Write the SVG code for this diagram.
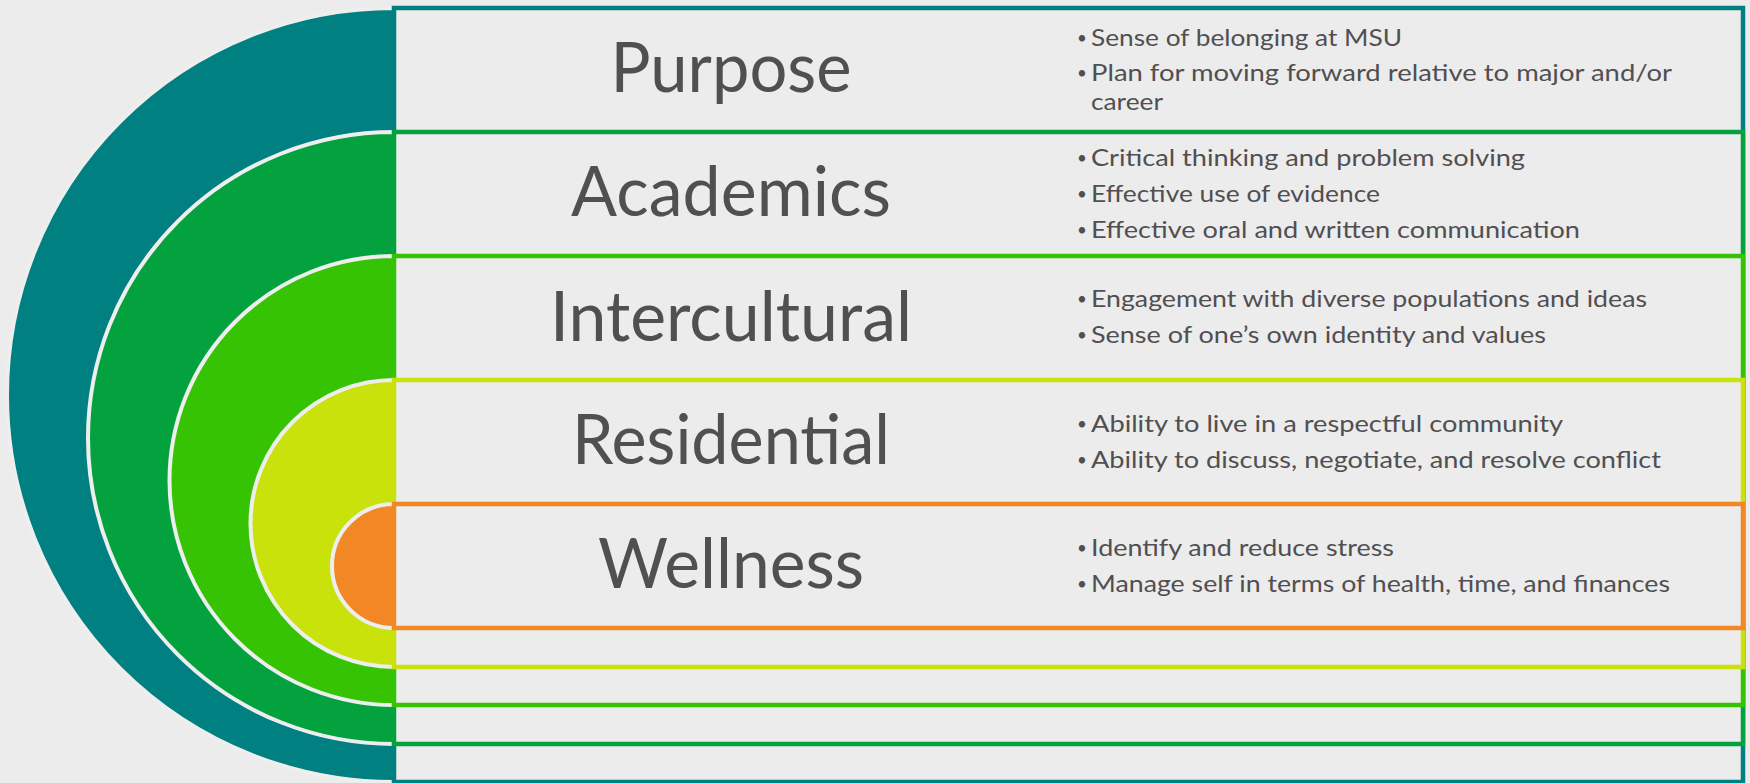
<svg xmlns="http://www.w3.org/2000/svg" width="1750" height="783" viewBox="0 0 1750 783">
  <style>
    .disk { stroke: #EDEEED; stroke-width: 4; }
    .box { fill: #EBECEB; stroke-width: 4.5; }
    .title { font-family: Lato, "Open Sans", "Liberation Sans", sans-serif; font-size: 70px; fill: #514F52; text-anchor: middle; }
    .item { font-family: Lato, "Open Sans", "Liberation Sans", sans-serif; font-size: 24px; fill: #514F52; }
    .dot { font-family: Lato, "Open Sans", "Liberation Sans", sans-serif; font-size: 17px; fill: #514F52; text-anchor: middle; }
  </style>
  <rect x="0" y="0" width="1750" height="783" fill="#EBECEB"/>

  <g id="purpose">
    <path class="disk" d="M394,8 A387,387 0 0 0 394,782 Z" fill="#008080"/>
    <rect class="box" x="394" y="8" width="1349" height="774" stroke="#008080"/>
    <text class="title" x="731" y="92" textLength="241" lengthAdjust="spacingAndGlyphs">Purpose</text>
    <text class="dot" x="1082" y="44">•</text>
    <text class="item" x="1091" y="46" textLength="311" lengthAdjust="spacingAndGlyphs">Sense of belonging at MSU</text>
    <text class="dot" x="1082" y="79">•</text>
    <text class="item" x="1091" y="81" textLength="581" lengthAdjust="spacingAndGlyphs">Plan for moving forward relative to major and/or</text>
    <text class="item" x="1091" y="110" textLength="72" lengthAdjust="spacingAndGlyphs">career</text>
  </g>

  <g id="academics">
    <path class="disk" d="M394,132 A306,306 0 0 0 394,744 Z" fill="#03A23F"/>
    <rect class="box" x="394" y="132" width="1349" height="612" stroke="#03A23F"/>
    <text class="title" x="731" y="216" textLength="320" lengthAdjust="spacingAndGlyphs">Academics</text>
    <text class="dot" x="1082" y="164">•</text>
    <text class="item" x="1091" y="166" textLength="434" lengthAdjust="spacingAndGlyphs">Critical thinking and problem solving</text>
    <text class="dot" x="1082" y="200">•</text>
    <text class="item" x="1091" y="202" textLength="289" lengthAdjust="spacingAndGlyphs">Effective use of evidence</text>
    <text class="dot" x="1082" y="236">•</text>
    <text class="item" x="1091" y="238" textLength="489" lengthAdjust="spacingAndGlyphs">Effective oral and written communication</text>
  </g>

  <g id="intercultural">
    <path class="disk" d="M394,256 A224.5,224.5 0 0 0 394,705 Z" fill="#36C304"/>
    <rect class="box" x="394" y="256" width="1349" height="449" stroke="#36C304"/>
    <text class="title" x="731" y="341" textLength="362" lengthAdjust="spacingAndGlyphs">Intercultural</text>
    <text class="dot" x="1082" y="305">•</text>
    <text class="item" x="1091" y="307" textLength="556" lengthAdjust="spacingAndGlyphs">Engagement with diverse populations and ideas</text>
    <text class="dot" x="1082" y="341">•</text>
    <text class="item" x="1091" y="343" textLength="455" lengthAdjust="spacingAndGlyphs">Sense of one’s own identity and values</text>
  </g>

  <g id="residential">
    <path class="disk" d="M394,380 A143.5,143.5 0 0 0 394,667 Z" fill="#C9E20B"/>
    <rect class="box" x="394" y="380" width="1349" height="287" stroke="#C9E20B"/>
    <text class="title" x="731" y="464" textLength="318" lengthAdjust="spacingAndGlyphs">Residential</text>
    <text class="dot" x="1082" y="430">•</text>
    <text class="item" x="1091" y="432" textLength="472" lengthAdjust="spacingAndGlyphs">Ability to live in a respectful community</text>
    <text class="dot" x="1082" y="466">•</text>
    <text class="item" x="1091" y="468" textLength="570" lengthAdjust="spacingAndGlyphs">Ability to discuss, negotiate, and resolve conflict</text>
  </g>

  <g id="wellness">
    <path class="disk" d="M394,504 A62,62 0 0 0 394,628 Z" fill="#F28825"/>
    <rect class="box" x="394" y="504" width="1349" height="124" stroke="#F28825"/>
    <text class="title" x="731" y="588" textLength="266" lengthAdjust="spacingAndGlyphs">Wellness</text>
    <text class="dot" x="1082" y="554">•</text>
    <text class="item" x="1091" y="556" textLength="303" lengthAdjust="spacingAndGlyphs">Identify and reduce stress</text>
    <text class="dot" x="1082" y="590">•</text>
    <text class="item" x="1091" y="592" textLength="579" lengthAdjust="spacingAndGlyphs">Manage self in terms of health, time, and finances</text>
  </g>

  <g id="connectors"></g>
</svg>
